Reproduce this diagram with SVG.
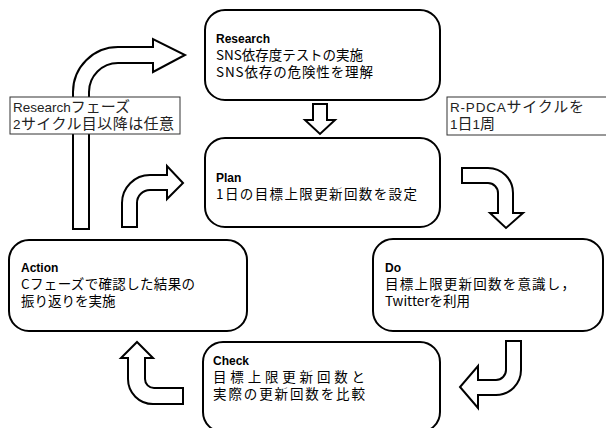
<svg xmlns="http://www.w3.org/2000/svg" width="606" height="428" viewBox="0 0 606 428">
<style>
.box{fill:#fff;stroke:#000;stroke-width:2}
.arr{fill:#fff;stroke:#000;stroke-width:2;stroke-linejoin:miter}
.note{fill:#fff;stroke:#333;stroke-width:1}
.h{font-family:"Liberation Sans","Noto Sans CJK JP",sans-serif;font-weight:bold;font-size:12px;fill:#000}
.b{font-family:"Noto Sans CJK JP",sans-serif;font-size:13.5px;fill:#000}
.n{font-family:"Noto Sans CJK JP",sans-serif;font-size:15px;fill:#222}
.nl{font-family:"Liberation Sans",sans-serif;font-size:13.5px}
</style>
<rect width="606" height="428" fill="#fff"/>
<g id="connectors">
<path class="arr" d="M73,229 L73,92 A45,45 0 0 1 118,47 L153,47 L153,39 L185,55 L153,72 L153,63 L118,63 A29,29 0 0 0 89,92 L89,229 Z"/>
<path class="arr" d="M122,227 L122,203 A28,28 0 0 1 150,175 L167,175 L167,166 L183,183 L167,199 L167,190 L150,190 A13,13 0 0 0 137,203 L137,227 Z"/>
<path class="arr" d="M313,104 L327,104 L327,120 L335,120 L320,134 L305,120 L313,120 Z"/>
<path class="arr" d="M462,168 L488,168 A25,25 0 0 1 513,193 L513,213 L523,213 L506,228 L490,213 L498,213 L498,193 A10,10 0 0 0 488,183 L462,183 Z"/>
<path class="arr" d="M521,341 L521,370 A25,25 0 0 1 496,395 L478,395 L478,408 L460,387 L478,366 L478,380 L496,380 A10,10 0 0 0 506,370 L506,341 Z"/>
<path class="arr" d="M183,404 L153,404 A25,25 0 0 1 128,379 L128,358 L121,358 L137,342 L153,358 L145,358 L145,379 A9,9 0 0 0 154,388 L183,388 Z"/>
</g>
<g id="note-research">
<rect class="note" x="10" y="97" width="170" height="37"/>
<text class="n" x="13" y="112"><tspan class="nl">Research</tspan>フェーズ</text>
<text class="n" x="13" y="129" textLength="161" lengthAdjust="spacing"><tspan class="nl">2</tspan>サイクル目以降は任意</text>
</g>
<g id="note-cycle">
<rect class="note" x="447" y="97" width="165" height="38"/>
<text class="n" x="450" y="112" textLength="134" lengthAdjust="spacing"><tspan class="nl">R-PDCA</tspan>サイクルを</text>
<text class="n" x="450" y="129"><tspan class="nl">1</tspan>日<tspan class="nl">1</tspan>周</text>
</g>
<g id="research">
<rect class="box" x="205" y="10" width="235" height="90" rx="20"/>
<text class="h" x="216" y="43">Research</text>
<text class="b" x="216" y="60" textLength="147" lengthAdjust="spacing">SNS依存度テストの実施</text>
<text class="b" x="216" y="77" textLength="157" lengthAdjust="spacing">SNS依存の危険性を理解</text>
</g>
<g id="plan">
<rect class="box" x="205" y="138" width="235" height="89" rx="20"/>
<text class="h" x="216" y="182">Plan</text>
<text class="b" x="216" y="199" textLength="201" lengthAdjust="spacing">1日の目標上限更新回数を設定</text>
</g>
<g id="do">
<rect class="box" x="373" y="239" width="230" height="92" rx="20"/>
<text class="h" x="385" y="272">Do</text>
<text class="b" x="385" y="289" textLength="190" lengthAdjust="spacing">目標上限更新回数を意識し，</text>
<text class="b" x="385" y="306">Twitterを利用</text>
</g>
<g id="check">
<rect class="box" x="203" y="342" width="237" height="90" rx="20"/>
<text class="h" x="213" y="365">Check</text>
<text class="b" x="213" y="382" textLength="152" lengthAdjust="spacing">目標上限更新回数と</text>
<text class="b" x="213" y="399" textLength="152" lengthAdjust="spacing">実際の更新回数を比較</text>
</g>
<g id="action">
<rect class="box" x="9" y="240" width="238" height="91" rx="20"/>
<text class="h" x="21" y="272">Action</text>
<text class="b" x="21" y="289" textLength="174" lengthAdjust="spacing">Cフェーズで確認した結果の</text>
<text class="b" x="21" y="306">振り返りを実施</text>
</g>
</svg>
